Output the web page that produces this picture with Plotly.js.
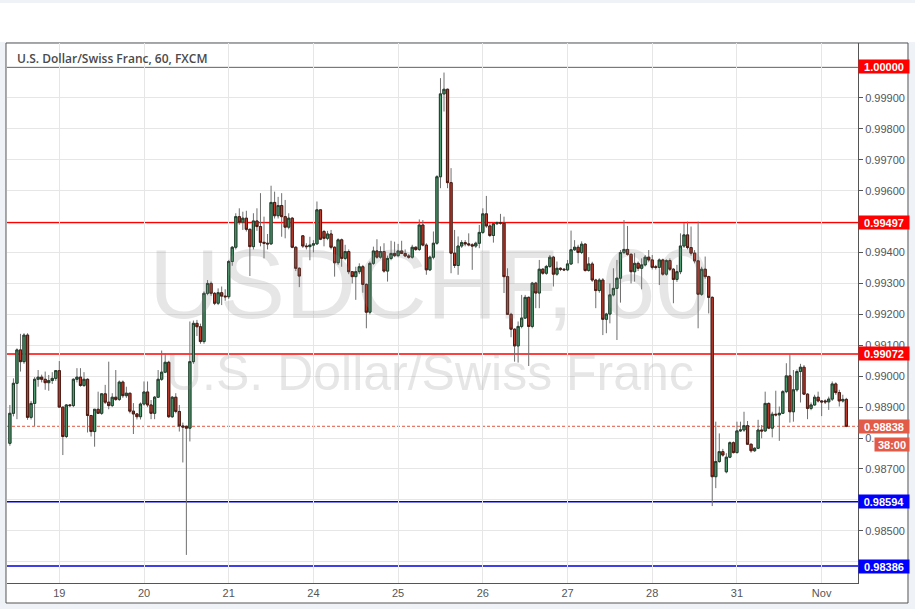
<!DOCTYPE html>
<html>
<head>
<meta charset="utf-8">
<script src="https://cdn.plot.ly/plotly-3.0.1.min.js"></script>
<style>html,body{margin:0;padding:0;background:#eff2f6;}#chart{width:915px;height:609px;}</style>
</head>
<body>
<div id="chart"></div>
<script>
// Hourly candles (index 0 = first bar on the chart)
const opens = [
0.98783,0.98880,0.98977,0.99085,0.99047,0.99133,0.98867,0.98912,0.98990,0.98997,
0.98990,0.98979,0.98986,0.98993,0.99018,0.98900,0.98805,0.98907,0.98905,0.98990,
0.98997,0.98970,0.98990,0.98873,0.98821,0.98893,0.98880,0.98943,0.98916,0.98905,
0.98932,0.98925,0.98981,0.98937,0.98945,0.98887,0.98878,0.98869,0.98910,0.98949,
0.98907,0.98880,0.98932,0.98990,0.99013,0.99045,0.98869,0.98932,0.98886,0.98839,
0.98838,0.98832,0.99047,0.99171,0.99160,0.99112,0.99268,0.99300,0.99268,0.99236,
0.99270,0.99259,0.99257,0.99371,0.99417,0.99516,0.99498,0.99511,0.99475,0.99419,
0.99502,0.99484,0.99433,0.99430,0.99428,0.99562,0.99519,0.99552,0.99516,0.99482,
0.99511,0.99417,0.99349,0.99454,0.99421,0.99419,0.99424,0.99428,0.99538,0.99468,
0.99446,0.99460,0.99417,0.99367,0.99441,0.99381,0.99403,0.99338,0.99322,0.99338,
0.99354,0.99297,0.99207,0.99365,0.99405,0.99385,0.99403,0.99340,0.99381,0.99397,
0.99390,0.99405,0.99397,0.99389,0.99385,0.99417,0.99410,0.99489,0.99424,0.99344,
0.99385,0.99430,0.99645,0.99913,0.99928,0.99626,0.99398,0.99358,0.99421,0.99432,
0.99428,0.99425,0.99421,0.99430,0.99465,0.99525,0.99486,0.99455,0.99493,0.99497,
0.99495,0.99322,0.99200,0.99152,0.99098,0.99161,0.99188,0.99255,0.99161,0.99301,
0.99269,0.99346,0.99333,0.99355,0.99385,0.99330,0.99349,0.99346,0.99344,0.99363,
0.99409,0.99417,0.99400,0.99427,0.99342,0.99363,0.99311,0.99277,0.99311,0.99184,
0.99201,0.99263,0.99284,0.99317,0.99400,0.99410,0.99394,0.99338,0.99365,0.99349,
0.99360,0.99385,0.99376,0.99354,0.99352,0.99376,0.99330,0.99374,0.99346,0.99313,
0.99338,0.99421,0.99457,0.99416,0.99398,0.99373,0.99265,0.99346,0.99322,0.99255,
0.98675,0.98724,0.98756,0.98691,0.98738,0.98785,0.98753,0.98823,0.98826,0.98840,
0.98780,0.98759,0.98767,0.98826,0.98823,0.98912,0.98832,0.98877,0.98875,0.98880,
0.98950,0.99001,0.98885,0.98956,0.99015,0.99029,0.98942,0.98896,0.98907,0.98932,
0.98920,0.98920,0.98917,0.98926,0.98975,0.98947,0.98920,0.98925
];
const highs = [
0.98907,0.98993,0.99090,0.99137,0.99139,0.99139,0.98920,0.98997,0.99020,0.99005,
0.99015,0.99004,0.99013,0.99020,0.99049,0.98900,0.98910,0.98910,0.98993,0.99026,
0.99026,0.99013,0.98993,0.98873,0.98893,0.98950,0.98945,0.98972,0.99047,0.98945,
0.99020,0.98986,0.98986,0.98966,0.98945,0.98913,0.98880,0.98915,0.98983,0.98983,
0.98923,0.98936,0.99020,0.99083,0.99074,0.99050,0.98936,0.98945,0.98907,0.98850,
0.98840,0.99177,0.99180,0.99182,0.99170,0.99274,0.99311,0.99306,0.99272,0.99284,
0.99290,0.99281,0.99376,0.99421,0.99527,0.99543,0.99532,0.99535,0.99478,0.99527,
0.99543,0.99592,0.99516,0.99460,0.99616,0.99597,0.99580,0.99592,0.99570,0.99527,
0.99515,0.99420,0.99352,0.99456,0.99430,0.99451,0.99440,0.99565,0.99540,0.99473,
0.99470,0.99473,0.99420,0.99446,0.99445,0.99425,0.99410,0.99340,0.99354,0.99365,
0.99360,0.99300,0.99371,0.99419,0.99443,0.99420,0.99430,0.99390,0.99438,0.99435,
0.99428,0.99438,0.99410,0.99395,0.99425,0.99420,0.99507,0.99505,0.99430,0.99390,
0.99468,0.99650,0.99964,0.99982,0.99930,0.99673,0.99473,0.99452,0.99440,0.99440,
0.99462,0.99430,0.99435,0.99489,0.99543,0.99583,0.99495,0.99497,0.99500,0.99525,
0.99516,0.99349,0.99205,0.99155,0.99177,0.99263,0.99263,0.99258,0.99305,0.99305,
0.99376,0.99350,0.99360,0.99392,0.99389,0.99371,0.99352,0.99350,0.99376,0.99471,
0.99440,0.99425,0.99436,0.99430,0.99385,0.99370,0.99315,0.99317,0.99317,0.99205,
0.99300,0.99349,0.99376,0.99408,0.99505,0.99486,0.99398,0.99398,0.99371,0.99381,
0.99392,0.99408,0.99392,0.99360,0.99381,0.99380,0.99378,0.99381,0.99350,0.99360,
0.99462,0.99495,0.99500,0.99484,0.99408,0.99500,0.99354,0.99387,0.99325,0.99258,
0.98853,0.98815,0.98765,0.98751,0.98789,0.98789,0.98853,0.98853,0.98885,0.98855,
0.98782,0.98770,0.98859,0.98842,0.98950,0.98915,0.98885,0.98953,0.98902,0.98955,
0.99042,0.99071,0.99020,0.99022,0.99040,0.99036,0.98945,0.98915,0.98940,0.98950,
0.98923,0.98925,0.98934,0.98983,0.98980,0.98956,0.98940,0.98930
];
const lows = [
0.98775,0.98870,0.98861,0.99015,0.99040,0.98859,0.98860,0.98839,0.98966,0.98980,
0.98956,0.98953,0.98975,0.98985,0.98900,0.98745,0.98800,0.98900,0.98900,0.98980,
0.98966,0.98965,0.98818,0.98805,0.98772,0.98878,0.98875,0.98910,0.98893,0.98900,
0.98920,0.98920,0.98930,0.98930,0.98880,0.98813,0.98860,0.98860,0.98905,0.98900,
0.98861,0.98861,0.98930,0.98985,0.99010,0.98865,0.98865,0.98880,0.98821,0.98721,
0.98422,0.98789,0.99040,0.99130,0.99105,0.99105,0.99262,0.99260,0.99230,0.99230,
0.99230,0.99244,0.99250,0.99357,0.99410,0.99490,0.99473,0.99468,0.99324,0.99410,
0.99470,0.99420,0.99381,0.99410,0.99425,0.99510,0.99510,0.99451,0.99446,0.99475,
0.99414,0.99340,0.99288,0.99415,0.99410,0.99375,0.99400,0.99425,0.99440,0.99420,
0.99440,0.99410,0.99322,0.99360,0.99354,0.99375,0.99330,0.99300,0.99247,0.99330,
0.99270,0.99155,0.99200,0.99360,0.99380,0.99380,0.99335,0.99306,0.99375,0.99385,
0.99385,0.99395,0.99385,0.99380,0.99380,0.99405,0.99405,0.99420,0.99328,0.99340,
0.99378,0.99425,0.99608,0.99856,0.99608,0.99333,0.99350,0.99328,0.99415,0.99420,
0.99420,0.99344,0.99415,0.99414,0.99460,0.99480,0.99450,0.99432,0.99490,0.99490,
0.99269,0.99198,0.99126,0.99047,0.99044,0.99155,0.99185,0.99033,0.99155,0.99220,
0.99220,0.99328,0.99328,0.99350,0.99290,0.99325,0.99340,0.99340,0.99340,0.99360,
0.99405,0.99365,0.99395,0.99338,0.99338,0.99305,0.99220,0.99270,0.99133,0.99139,
0.99171,0.99258,0.99117,0.99238,0.99395,0.99390,0.99300,0.99306,0.99340,0.99281,
0.99355,0.99370,0.99345,0.99345,0.99295,0.99325,0.99325,0.99340,0.99236,0.99305,
0.99330,0.99415,0.99410,0.99390,0.99365,0.99155,0.99260,0.99315,0.99203,0.98580,
0.98638,0.98720,0.98740,0.98686,0.98735,0.98750,0.98750,0.98820,0.98820,0.98778,
0.98753,0.98755,0.98765,0.98799,0.98820,0.98830,0.98802,0.98870,0.98791,0.98878,
0.98945,0.98850,0.98853,0.98950,0.98915,0.98940,0.98861,0.98890,0.98905,0.98915,
0.98871,0.98910,0.98891,0.98920,0.98940,0.98902,0.98915,0.98835
];
const closes = [
0.98880,0.98977,0.99085,0.99047,0.99133,0.98867,0.98912,0.98990,0.98997,0.98990,
0.98979,0.98986,0.98993,0.99018,0.98900,0.98805,0.98907,0.98905,0.98990,0.98997,
0.98970,0.98990,0.98873,0.98821,0.98893,0.98880,0.98943,0.98916,0.98905,0.98932,
0.98925,0.98981,0.98937,0.98945,0.98887,0.98878,0.98869,0.98910,0.98949,0.98907,
0.98880,0.98932,0.98990,0.99013,0.99045,0.98869,0.98932,0.98886,0.98839,0.98836,
0.98832,0.99047,0.99171,0.99160,0.99112,0.99268,0.99300,0.99268,0.99236,0.99270,
0.99259,0.99257,0.99371,0.99417,0.99516,0.99498,0.99511,0.99475,0.99419,0.99502,
0.99484,0.99433,0.99430,0.99428,0.99562,0.99519,0.99552,0.99516,0.99482,0.99511,
0.99417,0.99349,0.99324,0.99421,0.99419,0.99424,0.99428,0.99538,0.99443,0.99446,
0.99460,0.99417,0.99367,0.99441,0.99381,0.99403,0.99338,0.99322,0.99338,0.99354,
0.99297,0.99207,0.99365,0.99405,0.99385,0.99403,0.99340,0.99381,0.99397,0.99390,
0.99405,0.99397,0.99389,0.99385,0.99417,0.99410,0.99489,0.99424,0.99344,0.99385,
0.99430,0.99645,0.99913,0.99928,0.99626,0.99398,0.99358,0.99421,0.99432,0.99428,
0.99425,0.99421,0.99430,0.99465,0.99525,0.99486,0.99455,0.99493,0.99497,0.99495,
0.99322,0.99200,0.99152,0.99098,0.99161,0.99188,0.99255,0.99161,0.99301,0.99269,
0.99346,0.99333,0.99355,0.99385,0.99330,0.99349,0.99346,0.99344,0.99363,0.99409,
0.99417,0.99400,0.99427,0.99342,0.99363,0.99311,0.99277,0.99311,0.99184,0.99201,
0.99263,0.99284,0.99317,0.99400,0.99410,0.99394,0.99338,0.99365,0.99349,0.99360,
0.99385,0.99376,0.99352,0.99352,0.99376,0.99330,0.99374,0.99346,0.99313,0.99338,
0.99421,0.99457,0.99416,0.99398,0.99373,0.99265,0.99346,0.99322,0.99255,0.98675,
0.98724,0.98756,0.98745,0.98738,0.98785,0.98753,0.98823,0.98826,0.98840,0.98780,
0.98759,0.98767,0.98826,0.98823,0.98912,0.98832,0.98877,0.98875,0.98880,0.98950,
0.99001,0.98885,0.98956,0.99015,0.99029,0.98942,0.98896,0.98907,0.98932,0.98920,
0.98917,0.98917,0.98926,0.98975,0.98947,0.98920,0.98925,0.98838
];

// Day ticks (bar index of each midnight) and their labels
const dayTickPos  = [14, 38, 62, 86, 110, 134, 158, 182, 206, 230];
const dayTickText = ['19', '20', '21', '24', '25', '26', '27', '28', '31', 'Nov'];

// Price axis ticks (labels hidden behind the price boxes are shown as in the reference)
const priceTicks = [0.984,0.985,0.986,0.987,0.988,0.989,0.990,0.991,0.992,0.993,0.994,0.995,0.996,0.997,0.998,0.999,1.000];
const priceTickText = ['','0.98500','','0.98700','0.','0.98900','0.99000','0.99100','0.99200','0.99300','0.99400','','0.99600','0.99700','0.99800','0.99900',''];

// Drawn horizontal levels
const resistanceLevels = [1.00000, 0.99497, 0.99072];
const supportLevels = [0.98594, 0.98386];
const lastPrice = 0.98838;
const countdownText = '38:00';

const titleText = 'U.S. Dollar/Swiss Franc, 60, FXCM';
const watermark1 = 'USDCHF, 60';
const watermark2 = 'U.S. Dollar/Swiss Franc';

const barIndex = closes.map((_, i) => i);
const bodyHigh = closes.map((c, i) => Math.max(c, opens[i]));
const bodyLow  = closes.map((c, i) => Math.min(c, opens[i]));

const UP = '#4f9e71', DOWN = '#c33b2d';

const wickTrace = {
  type: 'candlestick', x: barIndex, open: opens, high: highs, low: lows, close: closes,
  increasing: {line: {color: '#6f6f6f', width: 1}, fillcolor: UP},
  decreasing: {line: {color: '#6f6f6f', width: 1}, fillcolor: DOWN},
  whiskerwidth: 0, hoverinfo: 'skip', showlegend: false
};
const bodyTrace = {
  type: 'candlestick', x: barIndex, open: opens, high: bodyHigh, low: bodyLow, close: closes,
  increasing: {line: {color: '#1f3f2b', width: 1}, fillcolor: UP},
  decreasing: {line: {color: '#4a1a12', width: 1}, fillcolor: DOWN},
  whiskerwidth: 0, hoverinfo: 'skip', showlegend: false
};

const axisFont = {family: 'Liberation Sans, Arial, sans-serif', size: 11, color: '#555555'};

const shapes = [
  {type: 'rect', xref: 'paper', yref: 'paper', x0: -0.02, x1: 1.08, y0: 1.0019, y1: 1.0741,
   fillcolor: '#ffffff', line: {width: 0}, layer: 'below'},
  {type: 'rect', xref: 'paper', yref: 'paper', x0: -0.00118, x1: 1.05875, y0: -0.03704, y1: 1.0,
   fillcolor: '#ffffff', line: {color: '#555555', width: 1}, layer: 'below'}
];
resistanceLevels.forEach(v => shapes.push({type: 'line', xref: 'paper', x0: 0, x1: 1, yref: 'y', y0: v, y1: v,
  line: {color: '#ff0000', width: 1.5}, layer: 'between'}));
supportLevels.forEach(v => shapes.push({type: 'line', xref: 'paper', x0: 0, x1: 1, yref: 'y', y0: v, y1: v,
  line: {color: '#0000dd', width: 1.5}, layer: 'between'}));
shapes.push({type: 'line', xref: 'paper', x0: 0, x1: 1, yref: 'y', y0: lastPrice, y1: lastPrice,
  line: {color: '#e0553f', width: 1, dash: '3px,2px'}, layer: 'between'});

const labelFont = {family: 'Liberation Sans, Arial, sans-serif', size: 11, color: '#ffffff', weight: 'bold'};
function levelLabel(v, color) {
  return {xref: 'paper', x: 1, xanchor: 'left', yref: 'y', y: v, yanchor: 'middle',
    text: v.toFixed(5), showarrow: false, bgcolor: color, font: labelFont,
    width: 48, height: 11, borderpad: 1, align: 'center'};
}
const annotations = [
  {xref: 'paper', yref: 'paper', x: 0.497, y: 0.553, xanchor: 'center', yanchor: 'middle',
   text: watermark1, showarrow: false,
   font: {family: 'Liberation Sans, Arial, sans-serif', size: 98, color: 'rgba(130,130,130,0.2)'}},
  {xref: 'paper', yref: 'paper', x: 0.497, y: 0.389, xanchor: 'center', yanchor: 'middle',
   text: watermark2, showarrow: false,
   font: {family: 'Liberation Sans, Arial, sans-serif', size: 50, color: 'rgba(130,130,130,0.2)'}},
  {xref: 'paper', yref: 'paper', x: 0.0094, y: 0.9704, xanchor: 'left', yanchor: 'middle',
   text: titleText, showarrow: false,
   font: {family: 'Open Sans, sans-serif', size: 12, color: '#4a4a4a', weight: 600}}
];
resistanceLevels.forEach(v => annotations.push(levelLabel(v, '#ff0000')));
supportLevels.forEach(v => annotations.push(levelLabel(v, '#0000ff')));
annotations.push(levelLabel(lastPrice, '#e25a48'));
annotations.push({xref: 'paper', x: 1, xanchor: 'left', xshift: 16, yref: 'y', y: lastPrice, yanchor: 'middle', yshift: -18,
  text: countdownText, showarrow: false, bgcolor: '#e25a48', font: labelFont,
  width: 32, height: 11, borderpad: 1, align: 'center'});

const layout = {
  width: 915, height: 609,
  margin: {l: 7, r: 57, t: 43, b: 26, pad: 0},
  paper_bgcolor: '#eff2f6', plot_bgcolor: '#ffffff',
  showlegend: false, boxgap: 0.12, boxmode: 'overlay',
  xaxis: {range: [-0.82, 240.3], tickmode: 'array', tickvals: dayTickPos, ticktext: dayTickText,
    showgrid: true, gridcolor: '#e6e6e6', gridwidth: 1, zeroline: false,
    showline: true, linecolor: '#555555', linewidth: 1, ticks: '', tickfont: axisFont,
    rangeslider: {visible: false}, fixedrange: true},
  yaxis: {side: 'right', range: [0.983312, 1.000776], tickmode: 'array', tickvals: priceTicks, ticktext: priceTickText,
    showgrid: true, gridcolor: '#e6e6e6', gridwidth: 1, zeroline: false,
    showline: true, linecolor: '#555555', linewidth: 1, ticks: 'outside', ticklen: 4, tickcolor: '#555555',
    tickfont: axisFont, fixedrange: true},
  shapes: shapes, annotations: annotations
};

Plotly.newPlot('chart', [wickTrace, bodyTrace], layout, {displayModeBar: false, staticPlot: true});
</script>
</body>
</html>
